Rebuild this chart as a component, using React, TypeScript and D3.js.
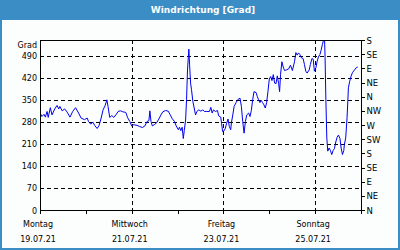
import React from "react";
import * as d3 from "d3";

// hours since 19.07.21 00:00
const hours = [
  0, 1.0, 2.1, 2.8, 3.7, 4.3, 5.4, 6.3, 7.7, 8.9, 9.8, 10.4, 11.6, 12.9, 14.2, 15.7, 17.1, 18.6, 20.2, 21.5,
  23.3, 24.7, 25.4, 26.5, 27.7, 28.7, 29.9, 30.9, 32.0, 33.0, 34.1, 35.0, 35.6, 36.5, 37.6, 38.6, 39.7, 40.9,
  42.1, 43.3, 44.9, 45.9, 47.0, 48.0, 49.0, 50.8, 52.2, 53.6, 54.9, 56.0, 57.0, 57.5, 58.1, 58.8, 59.8, 60.9,
  62.2, 63.3, 64.3, 65.7, 67.1, 68.2, 69.2, 70.3, 71.3, 72.4, 73.0, 73.7, 74.4, 75.0, 75.5, 76.2, 76.7, 77.2,
  77.6, 77.9, 78.3, 78.8, 79.3, 80.0, 80.7, 81.4, 82.1, 83.1, 84.2, 85.2, 86.0, 87.3, 88.7, 89.4, 90.1, 90.8,
  91.8, 92.9, 93.5, 94.6, 95.0, 95.6, 96.4, 97.0, 97.7, 98.4, 99.1, 99.8, 100.2, 100.9, 101.6, 102.6, 103.7,
  104.7, 105.4, 106.1, 106.8, 107.5, 108.2, 109.2, 109.9, 110.6, 111.3, 112.0, 113.1, 113.7, 114.4, 115.1,
  115.8, 116.5, 117.2, 117.9, 118.6, 119.3, 120.0, 120.7, 121.4, 122.1, 122.8, 123.5, 124.2, 124.9, 125.4,
  125.9, 126.6, 127.3, 128.0, 129.0, 130.1, 131.1, 132.1, 133.2, 133.9, 134.6, 135.3, 136.0, 136.7, 137.7,
  138.4, 139.1, 139.8, 140.9, 141.5, 142.3, 143.0, 143.6, 144.4, 145.0, 145.7, 146.5, 147.1, 147.8, 148.5,
  148.9, 149.2, 149.6, 150.1, 150.6, 151.3, 152.0, 152.7, 153.4, 154.1, 154.8, 155.5, 156.2, 157.0, 157.6,
  158.3, 159.0, 159.3, 160.0, 160.7, 161.1, 161.4, 162.1, 162.8, 163.5, 164.5, 165.5, 166.3,
];
const degrees = [
  309, 297, 304, 295, 313, 294, 325, 302, 321, 332, 321, 329, 315, 321, 311, 295, 313, 325, 308, 292,
  287, 292, 281, 273, 279, 268, 259, 268, 292, 318, 332, 350, 329, 294, 300, 294, 302, 313,
  315, 312, 310, 293, 281, 267, 271, 269, 265, 262, 267, 281, 284, 315, 281, 267, 271, 276,
  289, 302, 312, 316, 314, 302, 290, 282, 267, 255, 263, 252, 263, 227, 252, 286, 350, 445,
  483, 511, 461, 403, 382, 345, 324, 302, 313, 318, 314, 318, 313, 313, 313, 326, 308, 318,
  313, 316, 299, 295, 276, 249, 252, 260, 276, 289, 265, 255, 278, 302, 329, 341, 352,
  355, 329, 281, 244, 281, 302, 308, 297, 316, 350, 376, 373, 361, 350, 341,
  348, 341, 334, 324, 341, 376, 416, 424, 411, 430, 403, 401, 426, 401, 376,
  431, 471, 454, 443, 445, 448, 460, 443, 471, 500, 492, 499, 494, 484, 481,
  462, 441, 435, 445, 462, 481, 479, 441, 452, 471, 486, 494, 507, 526, 542,
  548, 484, 356, 229, 187, 197, 189, 176, 189, 195, 216, 231, 238, 227, 197,
  176, 189, 208, 229, 293, 346, 388, 409, 425, 436, 444, 452, 454,
];

const leftTicks = [0, 70, 140, 210, 280, 350, 420, 490];
const rightTicks = [0, 45, 90, 135, 180, 225, 270, 315, 360, 405, 450, 495, 540];
const compass = ["N", "NE", "E", "SE", "S", "SW", "W", "NW"];
const dayNames = ["Montag", "Mittwoch", "Freitag", "Sonntag"];
const dayDates = ["19.07.21", "21.07.21", "23.07.21", "25.07.21"];
const labelDays = [0, 2, 4, 6];
const allDays = [0, 1, 2, 3, 4, 5, 6, 7];
const gridDays = [2, 4, 6];

const W = 400;
const H = 250;
const L = 40;
const R = 361;
const T = 40;
const B = 210;
const FONT = "DejaVu Sans, Verdana, sans-serif";
const BLUE = "#3b8dc5";

export default function App() {
  const x = d3.scaleLinear().domain([0, 168]).range([L, R]);
  const y = d3.scaleLinear().domain([0, 540]).range([B, T]);
  const data = hours.map((h, i) => [h, degrees[i]] as [number, number]);
  const line = d3
    .line<[number, number]>()
    .x((d) => x(d[0]))
    .y((d) => y(d[1]));
  const px = (v: number) => Math.round(v) + 0.5;

  return (
    <svg
      width={W}
      height={H}
      style={{ position: "fixed", left: 0, top: 0, display: "block" }}
      fontFamily={FONT}
    >
      <rect x={0} y={0} width={W} height={H} fill="#fcfefe" />
      <rect x={0} y={0} width={W} height={20} fill={BLUE} />
      <rect x={1} y={1} width={W - 2} height={H - 2} fill="none" stroke={BLUE} strokeWidth={2} />
      <text x={203} y={12.5} fill="#ffffff" fontSize={9} fontWeight="bold" textAnchor="middle">
        Windrichtung [Grad]
      </text>

      <defs>
        <clipPath id="plotclip">
          <rect x={L} y={T} width={R - L} height={B - T} />
        </clipPath>
      </defs>

      {/* horizontal grid */}
      {leftTicks
        .filter((v) => v > 0)
        .map((v) => (
          <line
            key={"hg" + v}
            x1={L}
            x2={R}
            y1={px(y(v))}
            y2={px(y(v))}
            stroke="#000"
            strokeDasharray="4,3"
            shapeRendering="crispEdges"
          />
        ))}
      {/* vertical grid */}
      {gridDays.map((d) => (
        <line
          key={"vg" + d}
          x1={px(x(d * 24))}
          x2={px(x(d * 24))}
          y1={T}
          y2={B}
          stroke="#000"
          strokeDasharray="4,3"
          shapeRendering="crispEdges"
        />
      ))}

      <path
        d={line(data) || ""}
        fill="none"
        stroke="#0000f0"
        strokeWidth={1}
        clipPath="url(#plotclip)"
      />

      {/* frame */}
      <rect
        x={L + 0.5}
        y={T + 0.5}
        width={R - L}
        height={B - T}
        fill="none"
        stroke="#000"
        shapeRendering="crispEdges"
      />

      {/* bottom ticks */}
      {allDays.map((d) => (
        <line
          key={"bt" + d}
          x1={px(x(d * 24))}
          x2={px(x(d * 24))}
          y1={B}
          y2={B + 4}
          stroke="#000"
          shapeRendering="crispEdges"
        />
      ))}
      {labelDays.map((d, i) => (
        <g key={"bl" + d} fontSize={8} fill="#000" textAnchor="middle">
          <text x={x(d * 24) - 2} y={227}>
            {dayNames[i]}
          </text>
          <text x={x(d * 24) - 2} y={241.5}>
            {dayDates[i]}
          </text>
        </g>
      ))}

      {/* left labels */}
      <text x={37} y={47.5} fontSize={8} textAnchor="end" fill="#000">
        Grad
      </text>
      {leftTicks.map((v) => (
        <text key={"ll" + v} x={37} y={y(v) + 3.5} fontSize={8} textAnchor="end" fill="#000">
          {v}
        </text>
      ))}

      {/* right ticks */}
      {rightTicks.map((v) => (
        <g key={"rt" + v}>
          <line
            x1={R}
            x2={R + 4}
            y1={px(y(v))}
            y2={px(y(v))}
            stroke="#000"
            shapeRendering="crispEdges"
          />
          <text x={366.5} y={y(v) + 3.5} fontSize={8.5} fill="#000">
            {compass[(v / 45) % 8]}
          </text>
        </g>
      ))}
    </svg>
  );
}
